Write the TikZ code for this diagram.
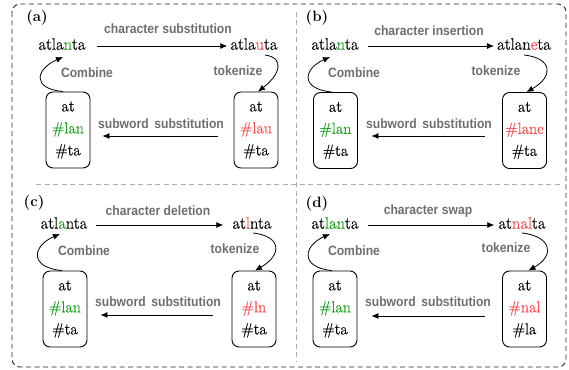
\documentclass[tikz,border=0pt]{standalone}
\usepackage{fontspec}
\newfontfamily\lblfont[FakeStretch=0.9]{Liberation Sans}
\newfontfamily\heavyserif[FakeBold=0.5]{Latin Modern Roman}
\usetikzlibrary{arrows.meta,calc}
\definecolor{cgreen}{RGB}{25,160,25}
\definecolor{cred}{RGB}{250,75,75}
\definecolor{lblgray}{RGB}{110,110,110}
\newcommand\hg[1]{\textcolor{cgreen}{#1}}
\newcommand\hr[1]{\textcolor{cred}{#1}}
\tikzset{
  word/.style={font=\heavyserif\fontsize{16.5}{20}\selectfont, inner sep=0pt},
  lbl/.style={font=\lblfont\bfseries\fontsize{13.5}{16}\selectfont, text=lblgray, inner sep=0pt},
  tok/.style={draw, rounded corners=7pt, line width=0.9pt, minimum width=44pt, minimum height=76pt,
              align=center, inner sep=0pt, font=\heavyserif\fontsize{16}{22}\selectfont},
  arr/.style={-{Latex[length=7pt,width=6pt]}, line width=0.8pt},
  tag/.style={font=\bfseries\fontsize{15}{18}\selectfont, inner sep=0pt},
  frame/.style={dashed, dash pattern=on 5pt off 3.5pt, rounded corners=8pt, line width=0.9pt, black!85},
  sep/.style={dash pattern=on 5pt off 3.5pt, line width=0.7pt, gray!65}
}
\begin{document}
\begin{tikzpicture}[x=1pt,y=-1pt]
\useasboundingbox (0,0) rectangle (569,369);
\draw[frame] (12,4) rectangle (566,367);
\draw[sep] (296,12) -- (296,361);
\draw[sep] (36,184) -- (562,184);

% ---------- (a)
\node[tag] (ta) at (37,18) {(a)};
\node[word] (a1) at (62,44) {atla\hg{n}ta};
\node[word] (a2) at (254,44) {atla\hr{u}ta};
\node[lbl] (la1) at (168,29) {character substitution};
\node[tok] (ab1) at (68,130) {at\\\hg{\#lan}\\\#ta};
\node[tok] (ab2) at (256,130) {at\\\hr{\#lau}\\\#ta};
\node[lbl] (la2) at (161,124) {subword\, substitution};
\node[lbl] (la3) at (238,71) {tokenize};
\node[lbl] (la4) at (87,73) {Combine};
\draw[arr] ($(a1.east)+(11,2)$) -- ($(a2.west)+(-3,2)$);
\draw[arr] ($(a2)+(11,11)$) .. controls +(21,3) and +(21,-16) .. ($(ab2.north)+(2,0)$);
\draw[arr] ($(ab1.north)+(-5,0)$) .. controls +(-32,-3) and +(-27,12) .. ($(a1)+(1,13)$);
\draw[arr] ($(ab2.west)+(-16,6)$) -- ($(ab1.east)+(12,6)$);

% ---------- (b)
\node[tag] (tb) at (317,18) {(b)};
\node[word] (b1) at (335,44) {atla\hg{n}ta};
\node[word] (b2) at (524,44) {atlan\hr{e}ta};
\node[lbl] (lb1) at (429,31) {character insertion};
\node[tok] (bb1) at (335.5,130.5) {at\\\hg{\#lan}\\\#ta};
\node[tok] (bb2) at (524.5,130.5) {at\\\hr{\#lane}\\\#ta};
\node[lbl] (lb2) at (429,124) {subword\, substitution};
\node[lbl] (lb3) at (496,71) {tokenize};
\node[lbl] (lb4) at (354,73) {Combine};
\draw[arr] ($(b1.east)+(9,2)$) -- ($(b2.west)+(-3,2)$);
\draw[arr] ($(b2)+(0,11)$) .. controls +(28,3) and +(28,-16) .. ($(bb2.north)+(2,0)$);
\draw[arr] ($(bb1.north)+(-3.5,0)$) .. controls +(-32,-3) and +(-27,12) .. ($(b1)+(-5,13)$);
\draw[arr] ($(bb2.west)+(-17.5,5.5)$) -- ($(bb1.east)+(13.5,5.5)$);

% ---------- (c)
\node[tag] (tc) at (34,203) {(c)};
\node[word] (c1) at (64,223) {atl\hg{a}nta};
\node[word] (c2) at (252,223) {at\hr{l}nta};
\node[lbl] (lc1) at (158,211) {character deletion};
\node[tok] (cb1) at (65,309) {at\\\hg{\#lan}\\\#ta};
\node[tok] (cb2) at (254,309) {at\\\hr{\#ln}\\\#ta};
\node[lbl] (lc2) at (158,302) {subword\, substitution};
\node[lbl] (lc3) at (235,249) {tokenize};
\node[lbl] (lc4) at (84,251) {Combine};
\draw[arr] ($(c1.east)+(9,2)$) -- ($(c2.west)+(-9,2)$);
\draw[arr] ($(c2)+(1,10)$) .. controls +(28,3) and +(28,-16) .. ($(cb2.north)+(1,0)$);
\draw[arr] ($(cb1.north)+(-3,0)$) .. controls +(-33,-3) and +(-28,12) .. ($(c1)+(-4,11)$);
\draw[arr] ($(cb2.west)+(-19,6)$) -- ($(cb1.east)+(13,6)$);

% ---------- (d)
\node[tag] (td) at (317,204) {(d)};
\node[word] (d1) at (335,223) {at\hg{lan}ta};
\node[word] (d2) at (522,223) {at\hr{nal}ta};
\node[lbl] (ld1) at (428,211) {character swap};
\node[tok] (db1) at (335,309) {at\\\hg{\#lan}\\\#ta};
\node[tok] (db2) at (524.5,309) {at\\\hr{\#nal}\\\#la};
\node[lbl] (ld2) at (428,302) {subword\, substitution};
\node[lbl] (ld3) at (506,248) {tokenize};
\node[lbl] (ld4) at (354,251) {Combine};
\draw[arr] ($(d1.east)+(9,2)$) -- ($(d2.west)+(-4,2)$);
\draw[arr] ($(d2)+(0,10)$) .. controls +(28,3) and +(28,-16) .. ($(db2.north)+(4,0)$);
\draw[arr] ($(db1.north)+(-3,0)$) .. controls +(-32,-3) and +(-27,12) .. ($(d1)+(-5,11)$);
\draw[arr] ($(db2.west)+(-17.5,7)$) -- ($(db1.east)+(14,7)$);
\end{tikzpicture}
\end{document}
